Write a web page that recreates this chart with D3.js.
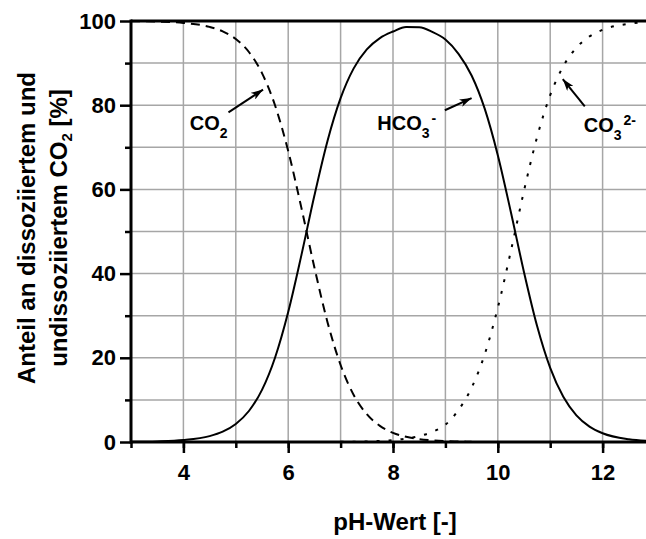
<!DOCTYPE html>
<html>
<head>
<meta charset="utf-8">
<script src="https://cdn.jsdelivr.net/npm/d3@7"></script>
<style>
  body { margin: 0; background: #fff; }
  text { font-family: "Liberation Sans", Arial, sans-serif; font-weight: bold; fill: #000; }
</style>
</head>
<body>
<svg id="chart" width="646" height="539"></svg>
<script>
"use strict"

// pH steps
const pH = [3, 3.5, 4, 4.5, 4.75, 5, 5.25, 5.5, 5.75, 6, 6.25, 6.5, 6.75, 7, 7.25, 7.5, 7.75,
            8, 8.25, 8.5, 8.75, 9, 9.25, 9.5, 9.75, 10, 10.25, 10.5, 10.75, 11, 11.25, 11.5,
            11.75, 12, 12.5, 13]

// CO2 (dashed), %
const co2 = [99.96, 99.86, 99.55, 98.6, 97.55, 95.72, 92.64, 87.62, 79.92, 69.12, 55.73, 41.45,
             28.47, 18.29, 11.18, 6.6, 3.82, 2.18, 1.23, 0.69, 0.39, 0.21, 0.12, 0.06,
             null, null, null, null, null, null, null, null, null, null, null, null]

// HCO3- (solid), %
const hco3 = [0.04, 0.14, 0.45, 1.39, 2.45, 4.28, 7.36, 12.38, 20.08, 30.88, 44.27, 58.55,
              71.52, 81.67, 88.75, 93.26, 95.95, 97.5, 98.6, 98.5, 97.4, 95.6, 92.2, 87.06,
              79.18, 68.13, 54.59, 40.34, 27.55, 17.61, 10.73, 6.33, 3.66, 2.09, 0.67, 0.21]

// CO3 2- (dotted), %
const co3 = [null, null, null, null, null, null, null, null, null, null, null, null,
             null, 0.04, 0.07, 0.14, 0.25, 0.45, 0.8, 1.4, 2.4, 4.1, 7.6, 12.88,
             20.82, 31.87, 45.41, 59.66, 72.45, 82.39, 89.27, 93.67, 96.34, 97.91, 99.33, 99.79]

const xTicksMajor = [4, 6, 8, 10, 12]
const yTicksMajor = [0, 20, 40, 60, 80, 100]

// label anchors and arrows in data coordinates
const labels = [
    {main: "CO", sub: "2", sup: "", x: 4.12, y: 74.2, ax0: 4.86, ay0: 78.3, ax1: 5.52, ay1: 83.7},
    {main: "HCO", sub: "3", sup: "-", x: 7.7, y: 74.2, ax0: 8.99, ay0: 78.8, ax1: 9.5, ay1: 81.7},
    {main: "CO", sub: "3", sup: "2-", x: 11.64, y: 73.6, ax0: 11.66, ay0: 79.7, ax1: 11.24, ay1: 86.2}
]

const margin = {top: 21, left: 131, bottom: 97, right: 0}
const plotW = 524
const plotH = 421

const svg = d3.select("#chart")

const x = d3.scaleLinear().domain([3, 13]).range([margin.left, margin.left + plotW])
const y = d3.scaleLinear().domain([0, 100]).range([margin.top + plotH, margin.top])

// grid
const grid = svg.append("g")
grid.selectAll(".vg").data(d3.range(4, 13, 1)).join("line")
    .attr("x1", d => x(d)).attr("x2", d => x(d))
    .attr("y1", y(0)).attr("y2", y(100))
    .attr("stroke", "#a6a6a6").attr("stroke-width", 1.5)
grid.selectAll(".hg").data(d3.range(10, 100, 10)).join("line")
    .attr("x1", x(3)).attr("x2", x(13))
    .attr("y1", d => y(d)).attr("y2", d => y(d))
    .attr("stroke", "#a6a6a6").attr("stroke-width", 1.5)

// curves
const line = d3.line()
    .defined(d => d[1] != null)
    .x(d => x(d[0]))
    .y(d => y(d[1]))
    .curve(d3.curveMonotoneX)

const series = [
    {values: co2, dash: "9,6"},
    {values: hco3, dash: null},
    {values: co3, dash: "3,9"}
]
series.forEach(s => {
    svg.append("path")
        .datum(pH.map((p, i) => [p, s.values[i]]))
        .attr("d", line)
        .attr("fill", "none")
        .attr("stroke", "#000")
        .attr("stroke-width", 2)
        .attr("stroke-dasharray", s.dash)
})

// axes
function styleAxis(g){
    g.select(".domain").remove()
    g.selectAll(".tick line").attr("stroke", "#000").attr("stroke-width", 2.5)
    g.selectAll(".tick text").style("font-size", "22px")
}

svg.append("g")
    .attr("transform", `translate(0,${y(0)})`)
    .call(d3.axisBottom(x).tickValues(d3.range(3, 13, 1)).tickSize(6).tickFormat(""))
    .call(styleAxis)
svg.append("g")
    .attr("transform", `translate(0,${y(0)})`)
    .call(d3.axisBottom(x).tickValues(xTicksMajor).tickSize(11).tickPadding(11).tickFormat(d3.format("d")))
    .call(styleAxis)

svg.append("g")
    .attr("transform", `translate(${x(3)},0)`)
    .call(d3.axisLeft(y).tickValues(d3.range(10, 100, 20)).tickSize(6).tickFormat(""))
    .call(styleAxis)
svg.append("g")
    .attr("transform", `translate(${x(3)},0)`)
    .call(d3.axisLeft(y).tickValues(yTicksMajor).tickSize(11).tickPadding(4).tickFormat(d3.format("d")))
    .call(styleAxis)

// frame
svg.append("line").attr("x1", x(3)).attr("x2", x(3)).attr("y1", y(100) - 1.5).attr("y2", y(0) + 1.5)
    .attr("stroke", "#000").attr("stroke-width", 3)
svg.append("line").attr("x1", x(3)).attr("x2", x(13)).attr("y1", y(0)).attr("y2", y(0))
    .attr("stroke", "#000").attr("stroke-width", 3)
svg.append("line").attr("x1", x(3)).attr("x2", x(13)).attr("y1", y(100)).attr("y2", y(100))
    .attr("stroke", "#000").attr("stroke-width", 3)

// arrowhead
svg.append("defs").append("marker")
    .attr("id", "arrow")
    .attr("markerUnits", "userSpaceOnUse")
    .attr("viewBox", "0 0 12 8")
    .attr("refX", 12).attr("refY", 4)
    .attr("markerWidth", 12).attr("markerHeight", 8)
    .attr("orient", "auto")
    .append("path").attr("d", "M0,0 L12,4 L0,8 L3,4 Z").attr("fill", "#000")

// annotations
labels.forEach(l => {
    svg.append("line")
        .attr("x1", x(l.ax0)).attr("y1", y(l.ay0))
        .attr("x2", x(l.ax1)).attr("y2", y(l.ay1))
        .attr("stroke", "#000").attr("stroke-width", 2)
        .attr("marker-end", "url(#arrow)")
    const t = svg.append("text")
        .attr("x", x(l.x)).attr("y", y(l.y))
        .style("font-size", "20px")
    t.append("tspan").text(l.main)
    t.append("tspan").text(l.sub).attr("dy", 8).style("font-size", "14px")
    if(l.sup)
        t.append("tspan").text(l.sup).attr("dy", -15).attr("dx", 2).style("font-size", "14px")
})

// axis titles
svg.append("text")
    .attr("x", 395).attr("y", 530)
    .attr("text-anchor", "middle")
    .style("font-size", "24px")
    .text("pH-Wert [-]")

svg.append("text")
    .attr("transform", "translate(35,228) rotate(-90)")
    .attr("text-anchor", "middle")
    .style("font-size", "24px")
    .text("Anteil an dissoziiertem und")

const yt2 = svg.append("text")
    .attr("transform", "translate(67,228) rotate(-90)")
    .attr("text-anchor", "middle")
    .style("font-size", "24px")
yt2.append("tspan").text("undissoziiertem CO")
yt2.append("tspan").text("2").attr("dy", 5).style("font-size", "15px")
yt2.append("tspan").text(" [%]").attr("dy", -5)
</script>
</body>
</html>
